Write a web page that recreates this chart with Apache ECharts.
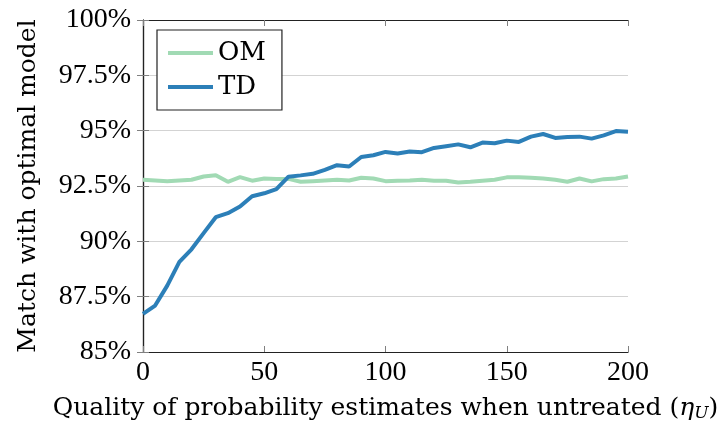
<!DOCTYPE html>
<html>
<head>
<meta charset="utf-8">
<script src="https://cdn.jsdelivr.net/npm/echarts@6/dist/echarts.min.js"></script>
<style>html,body{margin:0;padding:0;background:#fff;}#c{width:724px;height:427px;}</style>
</head>
<body>
<div id="c"></div>
<script>
var xValues = [0,5,10,15,20,25,30,35,40,45,50,55,60,65,70,75,80,85,90,95,100,105,110,115,120,125,130,135,140,145,150,155,160,165,170,175,180,185,190,195,200];
var omValues = [92.78,92.75,92.72,92.75,92.78,92.93,92.99,92.69,92.90,92.74,92.84,92.82,92.82,92.69,92.72,92.75,92.78,92.75,92.87,92.84,92.72,92.74,92.75,92.78,92.74,92.74,92.66,92.69,92.74,92.78,92.89,92.89,92.87,92.84,92.78,92.69,92.84,92.71,92.81,92.84,92.93];
var tdValues = [86.72,87.1,88.0,89.07,89.64,90.37,91.09,91.27,91.57,92.04,92.17,92.36,92.92,92.98,93.05,93.23,93.44,93.38,93.81,93.89,94.04,93.97,94.06,94.03,94.22,94.30,94.38,94.25,94.46,94.43,94.55,94.49,94.73,94.85,94.67,94.71,94.73,94.64,94.79,94.98,94.95];
var seriesNames = ['OM','TD'];
var xTitle = 'Quality of probability estimates when untreated (';
var yTitle = 'Match with optimal model';

var font = "'Liberation Serif', serif";
var tfont = "'DejaVu Serif', serif";
function pairs(vals){ return xValues.map(function(x,i){ return [x, vals[i]]; }); }
function pct(v){ return (Math.round(v*10)/10) + '%'; }

var chart = echarts.init(document.getElementById('c'), null, {renderer:'canvas'});
var tickStyle = {show:true, inside:true, length:6, lineStyle:{color:'#808080', width:1}};
var lineAx = {show:true, lineStyle:{color:'#222', width:1.2}};
chart.setOption({
  animation:false,
  backgroundColor:'#fff',
  grid:{left:143, right:96, top:20, bottom:73, containLabel:false},
  legend:{
    data:seriesNames, orient:'vertical', left:157, top:30, icon:'rect',
    backgroundColor:'#fff', borderColor:'#222', borderWidth:1.2, borderRadius:0,
    padding:[8,16,8,11], itemWidth:45, itemHeight:4, itemGap:4,
    textStyle:{fontFamily:tfont, fontSize:26, lineHeight:30, color:'#000', padding:[0,0,0,0]}
  },
  xAxis:[{
    type:'value', min:0, max:200, interval:50, position:'bottom',
    axisLine:lineAx, axisTick:tickStyle, splitLine:{show:false},
    axisLabel:{fontFamily:font, fontSize:28, color:'#000', margin:7},
    name: '{a|' + xTitle + '}{b|η}{c|U}{a|)}', nameLocation:'middle', nameGap:43,
    nameTextStyle:{fontFamily:tfont, fontSize:25, color:'#000',
      rich:{a:{fontFamily:tfont,fontSize:25,color:'#000'}, b:{fontFamily:tfont,fontSize:25,fontStyle:'italic',color:'#000'}, c:{fontFamily:tfont,fontSize:17,fontStyle:'italic',color:'#000',padding:[10,0,0,0]}}}
  },{
    type:'value', min:0, max:200, interval:50, position:'top',
    axisLine:lineAx, axisTick:tickStyle, axisLabel:{show:false}, splitLine:{show:false}
  }],
  yAxis:[{
    type:'value', min:85, max:100, interval:2.5, position:'left',
    axisLine:lineAx, axisTick:tickStyle,
    splitLine:{show:true, lineStyle:{color:'#d3d3d3', width:1}},
    axisLabel:{fontFamily:font, fontSize:28, color:'#000', margin:12, formatter:pct},
    name:yTitle, nameLocation:'middle', nameGap:102, nameRotate:90,
    nameTextStyle:{fontFamily:tfont, fontSize:25, color:'#000'}
  },{
    type:'value', min:85, max:100, interval:2.5, position:'right',
    axisLine:lineAx, axisTick:tickStyle, axisLabel:{show:false}, splitLine:{show:false}
  }],
  series:[
    {name:'OM', type:'line', data:pairs(omValues), symbol:'none', lineStyle:{color:'#a1dab4', width:4}, itemStyle:{color:'#a1dab4'}, z:2},
    {name:'TD', type:'line', data:pairs(tdValues), symbol:'none', lineStyle:{color:'#2c7fb8', width:4}, itemStyle:{color:'#2c7fb8'}, z:3}
  ]
});
</script>
</body>
</html>
